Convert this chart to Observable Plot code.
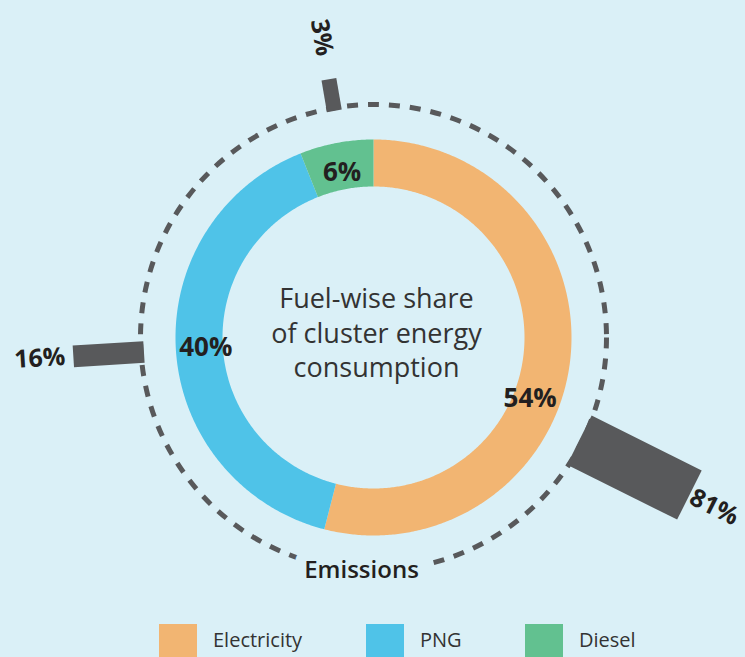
<!DOCTYPE html>
<html>
<head>
<meta charset="utf-8">
<script src="https://cdn.jsdelivr.net/npm/d3@7"></script>
<script src="https://cdn.jsdelivr.net/npm/@observablehq/plot@0.6"></script>
<style>
  html, body { margin: 0; padding: 0; background: #daf0f7; }
  body { font-family: "Open Sans", sans-serif; width: 745px; height: 657px; overflow: hidden; }
  #legend { position: relative; height: 45px; }
  .item { position: absolute; top: 0; }
  .sw { position: absolute; top: 12px; left: 0; width: 38px; height: 38px; }
  .lbl { position: absolute; top: 18px; left: 54px; font-size: 20px; line-height: 20px; color: #333; white-space: nowrap; }
</style>
</head>
<body>
<div id="chart"></div>
<div id="legend"></div>
<script>
// ---- data ----
const fuels = ["Electricity", "PNG", "Diesel"];
const energyShare = [54, 40, 6];      // % of cluster energy consumption (donut)
const emissionShare = [81, 16, 3];    // % of emissions (radial bars)
const colors = ["#f2b572", "#4fc3e8", "#62c190"];
const centerTitle = ["Fuel-wise share", "of cluster energy", "consumption"];
const ringLabel = "Emissions";

// ---- layout ----
const W = 745, H = 612, cx = 373, cy = 337;
const rOuter = 198, rInner = 151, rDash = 233, rBar0 = 230, rLabel = 168;
const dark = "#58595b", ink = "#231f20";
// label/bar placement tweaks for the large electricity slice (as in the original artwork)
const barNudge = {Electricity: 19.3, PNG: 0, Diesel: 1};
const labelNudge = {Electricity: 14, PNG: 0, Diesel: 0};

const rad = d => d * Math.PI / 180;
const pt = (deg, r) => ({x: r * Math.sin(rad(deg)), y: -r * Math.cos(rad(deg))});

let cum = 0;
const segs = fuels.map((f, i) => {
  const a0 = cum / 100 * 360; cum += energyShare[i];
  const a1 = cum / 100 * 360;
  return {fuel: f, i, a0, a1, mid: (a0 + a1) / 2, share: energyShare[i], emis: emissionShare[i]};
});

// donut arcs
const arcPts = [];
for (const s of segs) {
  const n = Math.max(2, Math.ceil((s.a1 - s.a0) / 0.5));
  for (let k = 0; k <= n; k++) arcPts.push({fuel: s.fuel, ...pt(s.a0 + (s.a1 - s.a0) * k / n, rOuter)});
  for (let k = n; k >= 0; k--) arcPts.push({fuel: s.fuel, ...pt(s.a0 + (s.a1 - s.a0) * k / n, rInner)});
}

// radial emission bars
const lenScale = d3.scalePow().exponent(0.2).domain([3, 81]).range([32, 123]);
const widScale = d3.scaleLinear().domain([3, 81]).range([15, 55]);
const barPts = [];
const barLabels = [];
for (const s of segs) {
  const a = s.mid + barNudge[s.fuel];
  const L = lenScale(s.emis), w = widScale(s.emis);
  const u = {x: Math.sin(rad(a)), y: -Math.cos(rad(a))};
  const p = {x: Math.cos(rad(a)), y: Math.sin(rad(a))};
  const r1 = rBar0 + L;
  const c = (r, sgn) => ({fuel: s.fuel, x: r * u.x + sgn * w / 2 * p.x, y: r * u.y + sgn * w / 2 * p.y});
  barPts.push(c(rBar0, -1), c(r1, -1), c(r1, 1), c(rBar0, 1));
  const upright = a > 0 && a < 180;
  const gap = s.emis < 5 ? 24 : (upright ? 2 : 8);
  barLabels.push({fuel: s.fuel, text: s.emis + "%", upright, rot: upright ? a - 90 : a - 270, ...pt(a, r1 + gap)});
}

const donutLabels = segs.map(s => ({text: s.share + "%", ...pt(s.mid + labelNudge[s.fuel], rLabel)}));

const plot = Plot.plot({
  width: W, height: H,
  margin: 0,
  x: {domain: [-cx, W - cx], range: [0, W], axis: null},
  y: {domain: [-cy, H - cy], range: [0, H], axis: null},
  style: {background: "transparent", fontFamily: "'Open Sans', sans-serif"},
  marks: [
    Plot.dot([{x: 0, y: 0}], {x: "x", y: "y", r: rDash, fill: "none", stroke: dark, strokeWidth: 5, strokeDasharray: "11 10"}),
    Plot.text([{x: 0, y: 0}], {x: "x", y: () => rDash, dx: -12, text: () => ringLabel, fontSize: 24, fontWeight: 600, fill: ink, stroke: "#daf0f7", strokeWidth: 22}),
    Plot.line(barPts, {x: "x", y: "y", z: "fuel", fill: dark, stroke: "none", curve: "linear-closed"}),
    ...segs.map(s => Plot.line(arcPts.filter(d => d.fuel === s.fuel), {x: "x", y: "y", fill: colors[s.i], stroke: "none", curve: "linear-closed"})),
    Plot.text(donutLabels, {x: "x", y: "y", text: "text", fontSize: 26, fontWeight: 700, fill: ink}),
    Plot.text(barLabels.filter(d => d.upright), {x: "x", y: "y", text: "text", rotate: "rot", textAnchor: "start", fontSize: 25, fontWeight: 700, fill: ink}),
    Plot.text(barLabels.filter(d => !d.upright), {x: "x", y: "y", text: "text", rotate: "rot", textAnchor: "end", fontSize: 25, fontWeight: 700, fill: ink}),
    Plot.text([centerTitle.join("\n")], {x: () => 0, y: () => 0, dx: 3, dy: -6, text: d => d, fontSize: 27, lineHeight: 1.28, fill: "#333"})
  ]
});
document.getElementById("chart").appendChild(plot);

// legend
const legendX = [159, 366, 525];
const legend = document.getElementById("legend");
fuels.forEach((f, i) => {
  const item = document.createElement("div");
  item.className = "item";
  item.style.left = legendX[i] + "px";
  item.innerHTML = `<div class="sw" style="background:${colors[i]}"></div><div class="lbl">${f}</div>`;
  legend.appendChild(item);
});
</script>
</body>
</html>
